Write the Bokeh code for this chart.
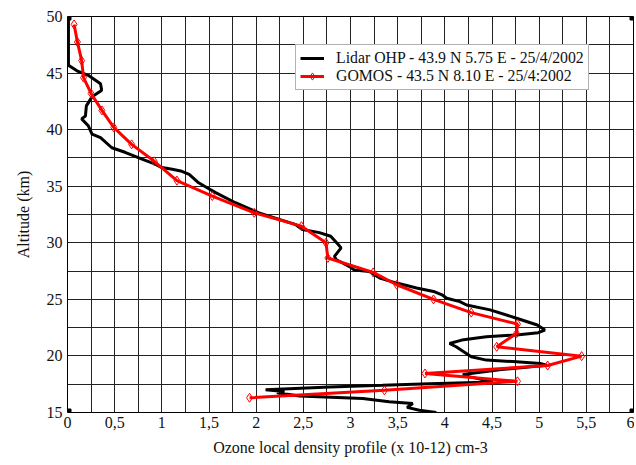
from bokeh.plotting import figure
from bokeh.models import FixedTicker, Range1d, Legend, LegendItem, Title
from bokeh.embed import file_html
from bokeh.resources import INLINE

# ---- data ----
lidar_alt = [50.0, 45.7, 45.2, 44.8, 44.05, 43.6, 43.45, 42.9, 42.1, 41.2, 40.95, 40.35,
             39.6, 39.3, 38.4, 38.0, 37.4, 36.95, 36.65, 36.5, 36.35, 36.05, 35.3, 34.87,
             34.43, 33.54, 32.65, 31.6, 31.17, 30.9, 30.58, 29.84, 29.55, 28.8, 28.5, 27.9,
             27.6, 27.47, 26.88, 26.44, 26.0, 25.7, 25.4, 25.1, 24.8, 24.5, 24.07, 23.33,
             22.73, 22.29, 22.05, 21.85, 21.7, 21.4, 21.1, 20.81, 20.37, 19.92, 19.63, 19.48,
             19.33, 19.18, 18.8, 18.35, 18.15, 17.7, 17.55, 17.4, 17.26, 17.11, 17.02, 16.85,
             16.75, 16.45, 16.23, 15.95, 15.8, 15.45, 15.2, 15.0]
lidar_o3 = [0.01, 0.01, 0.10, 0.22, 0.35, 0.36, 0.36, 0.26, 0.20, 0.19, 0.15, 0.22,
            0.26, 0.35, 0.47, 0.61, 0.79, 0.93, 1.00, 1.11, 1.20, 1.29, 1.39, 1.48,
            1.57, 1.78, 2.03, 2.42, 2.49, 2.67, 2.79, 2.87, 2.90, 2.83, 2.85, 2.99,
            3.04, 3.20, 3.31, 3.49, 3.70, 3.88, 3.97, 4.02, 4.16, 4.23, 4.48, 4.76,
            4.98, 5.06, 4.99, 4.76, 4.44, 4.18, 4.05, 4.12, 4.20, 4.28, 4.44, 4.76,
            5.01, 5.08, 4.60, 4.19, 4.27, 4.51, 3.84, 3.34, 2.78, 2.35, 2.10, 2.30,
            2.22, 2.46, 3.13, 3.41, 3.66, 3.60, 3.73, 3.91]

gomos_alt = [49.3, 47.75, 46.1, 44.6, 43.2, 41.7, 40.2, 38.7, 37.2, 35.5, 34.13, 32.65,
             31.47, 30.0, 28.66, 27.38, 26.29, 25.0, 23.83, 22.82, 21.99, 20.81, 19.98,
             19.15, 18.45, 17.76, 16.96, 16.3]
gomos_o3 = [0.07, 0.105, 0.15, 0.17, 0.25, 0.365, 0.49, 0.68, 0.92, 1.16, 1.535, 1.98,
            2.48, 2.74, 2.76, 3.24, 3.49, 3.88, 4.28, 4.77, 4.76, 4.55, 5.45,
            5.09, 3.79, 4.77, 3.36, 1.93]

x_ticks = [0, 0.5, 1, 1.5, 2, 2.5, 3, 3.5, 4, 4.5, 5, 5.5, 6]
x_tick_labels = ["0", "0,5", "1", "1,5", "2", "2,5", "3", "3,5", "4", "4,5", "5", "5,5", "6"]
y_ticks = [15, 20, 25, 30, 35, 40, 45, 50]
x_grid = [i * 0.25 for i in range(25)]
y_grid = [15 + i * 2.5 for i in range(15)]
x_min, x_max = 0, 6
y_min, y_max = 15, 50

x_title = "Ozone local density profile (x 10-12) cm-3"
y_title = "Altitude (km)"
lidar_label = "Lidar OHP - 43.9 N 5.75 E - 25/4/2002"
gomos_label = "GOMOS - 43.5 N 8.10 E - 25/4:2002"

FONT = "'Liberation Serif', 'Times New Roman', 'DejaVu Serif', serif"

p = figure(width=634, height=463, output_backend="svg", toolbar_location=None,
           x_range=Range1d(x_min, x_max), y_range=Range1d(y_min, y_max),
           min_border_left=67, min_border_right=1, min_border_top=16, min_border_bottom=51)
p.background_fill_color = "white"
p.border_fill_color = "white"
p.outline_line_color = "black"

# grid
p.xgrid.ticker = FixedTicker(ticks=x_grid)
p.ygrid.ticker = FixedTicker(ticks=y_grid)
for g in (p.xgrid, p.ygrid):
    g.grid_line_color = "#222222"
    g.grid_line_width = 1

# axes
p.xaxis.ticker = FixedTicker(ticks=x_ticks)
p.xaxis.major_label_overrides = {t: l for t, l in zip(x_ticks, x_tick_labels)}
p.yaxis.ticker = FixedTicker(ticks=y_ticks)
for ax in (p.xaxis, p.yaxis):
    ax.axis_line_color = None
    ax.major_tick_line_color = None
    ax.minor_tick_line_color = None
    ax.major_tick_out = 0
    ax.major_tick_in = 0
    ax.minor_tick_out = 0
    ax.minor_tick_in = 0
    ax.major_label_text_font = FONT
    ax.major_label_text_font_size = "16px"
    ax.major_label_text_color = "#111111"
    ax.axis_label_text_font = FONT
    ax.axis_label_text_font_size = "16px"
    ax.axis_label_text_font_style = "normal"
    ax.axis_label_text_color = "#111111"
p.xaxis.major_label_standoff = 4
p.yaxis.major_label_standoff = 5
p.yaxis.axis_label = y_title
p.yaxis.axis_label_standoff = 12

# x-axis title as a title panel below the axis
xt = Title(text=x_title, align="center", text_font=FONT, text_font_size="16px",
           text_font_style="normal", text_color="#111111", standoff=12)
p.add_layout(xt, "below")

# data
l1 = p.line(lidar_o3, lidar_alt, line_color="black", line_width=3)
l2 = p.line(gomos_o3, gomos_alt, line_color="red", line_width=3)
s2 = p.scatter(gomos_o3, gomos_alt, marker="diamond", size=9, fill_color="white",
               fill_alpha=0.0, line_color="red", line_width=1)

# corner squares
p.scatter([x_min, x_min, x_max, x_max], [y_min, y_max, y_min, y_max], marker="square",
          size=7, color="black")

legend = Legend(items=[LegendItem(label=lidar_label, renderers=[l1]),
                       LegendItem(label=gomos_label, renderers=[l2, s2])],
                location=(228, 322))
legend.label_text_font = FONT
legend.label_text_font_size = "15.8px"
legend.label_text_color = "#111111"
legend.glyph_width = 24
legend.glyph_height = 18
legend.label_height = 18
legend.label_standoff = 12
legend.spacing = 0
legend.padding = 4
legend.margin = 0
legend.border_line_color = "#666666"
legend.border_line_width = 1
legend.background_fill_color = "white"
legend.background_fill_alpha = 1.0
p.add_layout(legend)

open("out.html", "w").write(file_html(p, INLINE))
